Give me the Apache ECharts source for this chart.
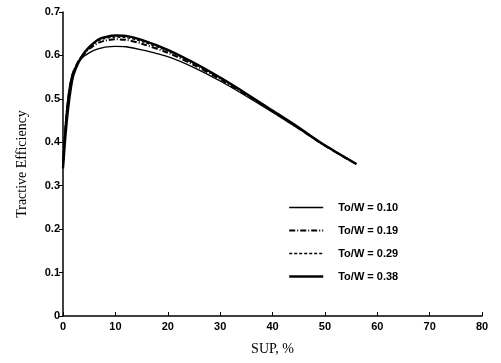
<!DOCTYPE html>
<html><head><meta charset="utf-8">
<script src="https://cdn.jsdelivr.net/npm/echarts@6/dist/echarts.min.js"></script>
<style>html,body{margin:0;padding:0;background:#fff}#c{width:501px;height:363px}</style>
</head><body><div id="c"></div>
<script>
const sup = [0, 0.5, 1, 1.5, 2, 3, 4, 5, 6, 7, 8, 10, 12, 15, 20, 25, 30, 35, 40, 45, 50, 56];
const names = ['To/W = 0.10', 'To/W = 0.19', 'To/W = 0.29', 'To/W = 0.38'];
const eff010 = [0.36, 0.45, 0.51, 0.545, 0.565, 0.585, 0.598, 0.606, 0.612, 0.616, 0.619, 0.621, 0.62, 0.613, 0.597, 0.572, 0.541, 0.506, 0.469, 0.431, 0.392, 0.35];
const eff019 = [0.35, 0.44, 0.50, 0.54, 0.562, 0.588, 0.603, 0.615, 0.624, 0.63, 0.634, 0.637, 0.636, 0.627, 0.606, 0.578, 0.545, 0.509, 0.471, 0.432, 0.392, 0.35];
const eff029 = [0.345, 0.43, 0.49, 0.535, 0.56, 0.588, 0.605, 0.618, 0.628, 0.635, 0.639, 0.642, 0.641, 0.632, 0.61, 0.581, 0.547, 0.51, 0.472, 0.433, 0.393, 0.35];
const eff038 = [0.34, 0.42, 0.48, 0.525, 0.555, 0.585, 0.605, 0.619, 0.63, 0.638, 0.642, 0.646, 0.645, 0.636, 0.613, 0.583, 0.549, 0.512, 0.473, 0.434, 0.393, 0.35];
const series = [eff010, eff019, eff029, eff038];
const styles = [
  {type: 'solid', width: 1.3},
  {type: [6, 2, 1, 2], width: 2},
  {type: [3, 2], width: 1.3},
  {type: 'solid', width: 2.4}
];
const chart = echarts.init(document.getElementById('c'));
const tickFont = {fontFamily: 'Liberation Sans', fontWeight: 'bold', fontSize: 11, color: '#000'};
chart.setOption({
  animation: false,
  grid: {left: 63, right: 19, top: 12, bottom: 47},
  legend: {
    show: true,
    orient: 'vertical', left: 283, top: 197, itemGap: 12, itemWidth: 34, itemHeight: 12,
    itemStyle: {opacity: 0, borderWidth: 0},
    textStyle: {fontFamily: 'Liberation Sans', fontWeight: 'bold', fontSize: 11, color: '#000', padding: [0, 0, 0, 10]},
    data: names.map((n, i) => ({name: n, lineStyle: {width: styles[i].width, type: styles[i].type, color: '#000'}}))
  },
  xAxis: {
    type: 'value', min: 0, max: 80, interval: 10,
    name: 'SUP, %', nameLocation: 'middle', nameGap: 26,
    nameTextStyle: {fontFamily: 'Liberation Serif', fontSize: 14, color: '#000'},
    axisLine: {lineStyle: {color: '#000', width: 1.5}},
    axisTick: {inside: true, length: 4, lineStyle: {color: '#000'}},
    axisLabel: Object.assign({margin: 5}, tickFont),
    splitLine: {show: false}
  },
  yAxis: {
    type: 'value', min: 0, max: 0.7, interval: 0.1,
    name: 'Tractive Efficiency', nameLocation: 'middle', nameGap: 34,
    nameTextStyle: {fontFamily: 'Liberation Serif', fontSize: 14, color: '#000'},
    axisLine: {show: true, lineStyle: {color: '#000', width: 1.5}},
    axisTick: {show: true, length: 4, lineStyle: {color: '#000'}},
    axisLabel: Object.assign({margin: 3, formatter: v => v === 0 ? '0' : v.toFixed(1)}, tickFont),
    splitLine: {show: false}
  },
  series: series.map((s, i) => ({
    name: names[i], type: 'line', smooth: 0.3, showSymbol: false, symbol: 'none',
    data: sup.map((x, j) => [x, s[j]]),
    lineStyle: Object.assign({color: '#000'}, styles[i]),
    itemStyle: {color: '#000'}
  }))
});
</script></body></html>
